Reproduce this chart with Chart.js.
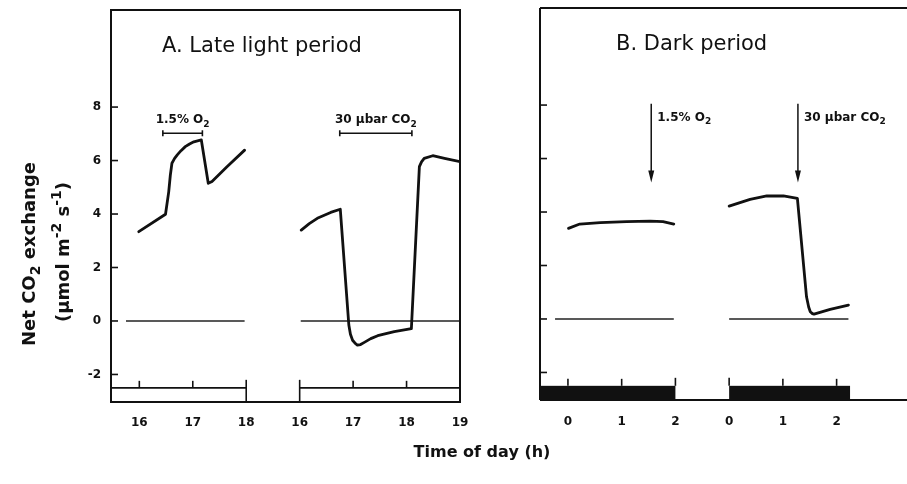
<!DOCTYPE html>
<html>
<head>
<meta charset="utf-8">
<script src="https://cdn.jsdelivr.net/npm/chart.js@4.4.0/dist/chart.umd.min.js"></script>
<style>
  html, body { margin: 0; padding: 0; background: #fff; }
  #wrap { position: relative; width: 907px; height: 484px; }
  canvas { position: absolute; left: 0; top: 0; }
</style>
</head>
<body>
<div id="wrap">
  <canvas id="chartA" width="907" height="484"></canvas>
  <canvas id="chartB" width="907" height="484"></canvas>
</div>
<script>
// second run of each panel is drawn 3 h further along the axis
const runShift = 3;

// Panel A - late light period (hours, umol m-2 s-1)
const aHours1 = [15.99, 16.49, 16.55, 16.58, 16.61, 16.66, 16.71, 16.78, 16.86, 16.94, 17.02, 17.16, 17.29, 17.36, 17.64, 17.97];
const aValues1 = [3.34, 3.99, 4.83, 5.45, 5.90, 6.08, 6.21, 6.37, 6.52, 6.62, 6.70, 6.77, 5.15, 5.22, 5.77, 6.39];
const aHours2 = [16.03, 16.18, 16.33, 16.58, 16.76, 16.92, 16.95, 16.99, 17.04, 17.08, 17.14, 17.21, 17.33, 17.46, 17.77, 18.09, 18.24, 18.28, 18.33, 18.49, 18.71, 19.0];
const aValues2 = [3.40, 3.64, 3.84, 4.06, 4.18, -0.15, -0.50, -0.72, -0.84, -0.90, -0.88, -0.80, -0.66, -0.55, -0.40, -0.29, 5.77, 5.95, 6.08, 6.18, 6.08, 5.96];
const aZero1 = [15.75, 17.97];
const aZero2 = [16.02, 19.0];
const aMarkFrom = [16.44, 16.75];
const aMarkTo = [17.18, 18.1];
const aMarkRun = [0, 1];
const aMarkLabels = ['1.5% O_{2}', '30 µbar CO_{2}'];
const aTickHours = [16, 17, 18, 16, 17, 18, 19];
const aTickRuns = [0, 0, 0, 1, 1, 1, 1];

// Panel B - dark period
const bHours1 = [0.01, 0.22, 0.60, 1.09, 1.53, 1.77, 1.97];
const bValues1 = [3.39, 3.55, 3.60, 3.64, 3.66, 3.64, 3.55];
const bHours2 = [0.0, 0.39, 0.70, 1.01, 1.27, 1.44, 1.48, 1.51, 1.55, 1.58, 1.88, 2.22];
const bValues2 = [4.22, 4.47, 4.60, 4.60, 4.51, 0.83, 0.45, 0.27, 0.20, 0.18, 0.36, 0.52];
const bZero1 = [-0.24, 1.97];
const bZero2 = [0.0, 2.22];
const bArrowHours = [1.55, 1.28];
const bArrowRun = [0, 1];
const bArrowLabels = ['1.5% O_{2}', '30 µbar CO_{2}'];
const bTickHours = [0, 1, 2, 0, 1, 2];
const bTickRuns = [0, 0, 0, 1, 1, 1];
const bDarkEnd2 = 2.25;

const yTicks = [-2, 0, 2, 4, 6, 8];
const yMin = -3.03, yMax = 11.63;
const bandTop = -2.5;

const FONT = '"DejaVu Sans", sans-serif';
const tickFont = { family: '"DejaVu Sans", sans-serif', size: 12, weight: 'bold' };

const u = (h, run) => h + run * runShift;

function pts(hours, values, run) {
  return hours.map((h, i) => ({ x: u(h, run), y: values[i] }));
}
function curve(hours, values, run) {
  return { data: pts(hours, values, run), borderColor: '#111', borderWidth: 2.8, pointRadius: 0,
    tension: 0, borderJoinStyle: 'round', borderCapStyle: 'round' };
}
function zero(span, run) {
  return { data: span.map(h => ({ x: u(h, run), y: 0 })), borderColor: '#222', borderWidth: 1.5, pointRadius: 0 };
}

function line(ctx, x1, y1, x2, y2) {
  ctx.beginPath(); ctx.moveTo(x1, y1); ctx.lineTo(x2, y2); ctx.stroke();
}

// text with _{sub} and ^{sup} parts
function richText(ctx, str, x, y, size, weight, align) {
  const parts = [];
  const re = /([_^])\{([^}]*)\}/g;
  let last = 0, m;
  while ((m = re.exec(str))) {
    if (m.index > last) parts.push({ t: str.slice(last, m.index), k: 0 });
    parts.push({ t: m[2], k: m[1] === '_' ? 1 : -1 });
    last = re.lastIndex;
  }
  if (last < str.length) parts.push({ t: str.slice(last), k: 0 });
  const big = weight + ' ' + size + 'px ' + FONT;
  const small = weight + ' ' + Math.round(size * 0.75) + 'px ' + FONT;
  let w = 0;
  parts.forEach(p => { ctx.font = p.k ? small : big; p.w = ctx.measureText(p.t).width; w += p.w; });
  let cx = align === 'center' ? x - w / 2 : x;
  ctx.textAlign = 'left';
  ctx.textBaseline = 'alphabetic';
  parts.forEach(p => {
    ctx.font = p.k ? small : big;
    const dy = p.k === 1 ? size * 0.3 : p.k === -1 ? -size * 0.42 : 0;
    ctx.fillText(p.t, cx, y + dy);
    cx += p.w;
  });
}

const panelA = {
  id: 'panelA',
  afterDraw(chart) {
    const { ctx, chartArea: a, scales: { x, y } } = chart;
    ctx.save();
    ctx.strokeStyle = '#111'; ctx.fillStyle = '#111';
    ctx.lineWidth = 2;
    ctx.strokeRect(a.left, a.top, a.right - a.left, a.bottom - a.top);
    ctx.lineWidth = 1.6;
    yTicks.forEach(v => { const py = y.getPixelForValue(v); line(ctx, a.left, py, a.left + 7, py); });

    // light period band (open)
    const bt = y.getPixelForValue(bandTop);
    const end1 = x.getPixelForValue(u(18, 0)), start2 = x.getPixelForValue(u(16, 1));
    line(ctx, a.left, bt, end1, bt);
    line(ctx, start2, bt, a.right, bt);
    line(ctx, end1, bt - 8, end1, a.bottom);
    line(ctx, start2, bt - 8, start2, a.bottom);
    [[16, 0], [17, 0], [17, 1], [18, 1]].forEach(([h, r]) => {
      const px = x.getPixelForValue(u(h, r)); line(ctx, px, bt - 7, px, bt);
    });

    // treatment bars
    aMarkFrom.forEach((h, i) => {
      const x1 = x.getPixelForValue(u(h, aMarkRun[i])), x2 = x.getPixelForValue(u(aMarkTo[i], aMarkRun[i]));
      const py = y.getPixelForValue(7.02);
      ctx.lineWidth = 1.6;
      line(ctx, x1, py, x2, py);
      line(ctx, x1, py - 3, x1, py + 3);
      line(ctx, x2, py - 3, x2, py + 3);
      richText(ctx, aMarkLabels[i], (x1 + x2) / 2, py - 10, 12, 'bold', 'center');
    });

    richText(ctx, 'A. Late light period', a.left + 51, 52, 21, 'normal', 'left');

    // axis titles
    ctx.save(); ctx.translate(35, 254); ctx.rotate(-Math.PI / 2);
    richText(ctx, 'Net CO_{2} exchange', 0, 0, 18, 'bold', 'center');
    ctx.restore();
    ctx.save(); ctx.translate(69, 252); ctx.rotate(-Math.PI / 2);
    richText(ctx, '(µmol m^{-2} s^{-1})', 0, 0, 18, 'bold', 'center');
    ctx.restore();
    richText(ctx, 'Time of day (h)', 482, 457, 16, 'bold', 'center');
    ctx.restore();
  }
};

const panelB = {
  id: 'panelB',
  afterDraw(chart) {
    const { ctx, chartArea: a, scales: { x, y } } = chart;
    ctx.save();
    ctx.strokeStyle = '#111'; ctx.fillStyle = '#111';
    ctx.lineWidth = 2;
    line(ctx, a.left, a.top, a.right, a.top);
    line(ctx, a.left, a.top, a.left, a.bottom);
    line(ctx, a.left, a.bottom, a.right, a.bottom);
    ctx.lineWidth = 1.6;
    yTicks.forEach(v => { const py = y.getPixelForValue(v); line(ctx, a.left, py, a.left + 7, py); });

    // dark period band (filled)
    const bt = y.getPixelForValue(bandTop);
    const end1 = x.getPixelForValue(u(2, 0)), start2 = x.getPixelForValue(u(0, 1));
    const end2 = x.getPixelForValue(u(bDarkEnd2, 1));
    ctx.fillRect(a.left, bt, end1 - a.left, a.bottom - bt);
    ctx.fillRect(start2, bt, end2 - start2, a.bottom - bt);
    line(ctx, end1, bt - 8, end1, bt);
    line(ctx, start2, bt - 8, start2, bt);
    [[0, 0], [1, 0], [1, 1], [2, 1]].forEach(([h, r]) => {
      const px = x.getPixelForValue(u(h, r)); line(ctx, px, bt - 7, px, bt);
    });

    // treatment arrows
    bArrowHours.forEach((h, i) => {
      const px = x.getPixelForValue(u(h, bArrowRun[i]));
      const top = y.getPixelForValue(8.05), tip = y.getPixelForValue(5.1);
      ctx.lineWidth = 1.5;
      line(ctx, px, top, px, tip - 8);
      ctx.beginPath();
      ctx.moveTo(px - 3, tip - 12); ctx.lineTo(px + 3, tip - 12); ctx.lineTo(px, tip); ctx.closePath();
      ctx.fill();
      richText(ctx, bArrowLabels[i], px + 6, top + 17, 12, 'bold', 'left');
    });

    richText(ctx, 'B. Dark period', a.left + 76, 50, 21, 'normal', 'left');
    ctx.restore();
  }
};

function xScale(min, max, height, tickHours, tickRuns, pad) {
  return {
    type: 'linear', min: min, max: max,
    grid: { display: false, drawTicks: false }, border: { display: false },
    afterFit: s => { s.height = height; s.paddingLeft = 0; s.paddingRight = 0; },
    afterBuildTicks: s => { s.ticks = tickHours.map((h, i) => ({ value: u(h, tickRuns[i]) })); },
    ticks: { padding: pad, font: tickFont, color: '#111', autoSkip: false, maxRotation: 0,
      callback: (v, i) => String(tickHours[i]) }
  };
}
function yScale(width, show) {
  return {
    min: yMin, max: yMax,
    grid: { display: false, drawTicks: false }, border: { display: false },
    afterFit: s => { s.width = width; s.paddingTop = 0; s.paddingBottom = 0; },
    afterBuildTicks: s => { s.ticks = yTicks.map(v => ({ value: v })); },
    ticks: { display: show, padding: 10, font: tickFont, color: '#111' }
  };
}
const common = {
  responsive: false, animation: false, devicePixelRatio: 1,
  plugins: { legend: { display: false }, tooltip: { enabled: false } }
};

new Chart(document.getElementById('chartA'), {
  type: 'line',
  data: { datasets: [curve(aHours1, aValues1, 0), curve(aHours2, aValues2, 1), zero(aZero1, 0), zero(aZero2, 1)] },
  options: Object.assign({}, common, {
    layout: { padding: { left: 0, right: 447, top: 10, bottom: 0 } },
    scales: { x: xScale(15.47, 22.0, 82, aTickHours, aTickRuns, 14), y: yScale(111, true) }
  }),
  plugins: [panelA]
});

new Chart(document.getElementById('chartB'), {
  type: 'line',
  data: { datasets: [curve(bHours1, bValues1, 0), curve(bHours2, bValues2, 1), zero(bZero1, 0), zero(bZero2, 1)] },
  options: Object.assign({}, common, {
    layout: { padding: { left: 0, right: 0, top: 8, bottom: 0 } },
    scales: { x: xScale(-0.52, 6.31, 84, bTickHours, bTickRuns, 15), y: yScale(540, false) }
  }),
  plugins: [panelB]
});
</script>
</body>
</html>
